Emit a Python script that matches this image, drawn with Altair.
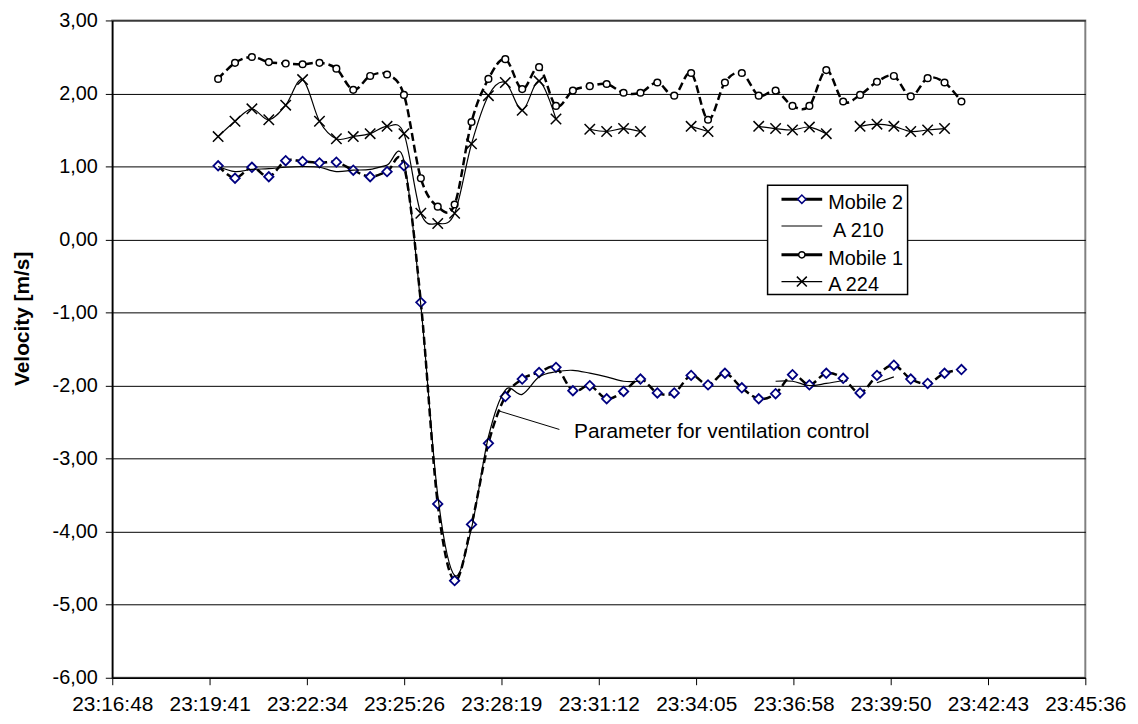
import altair as alt
import pandas as pd

# ---------------- data ----------------
times = [
    "23:19:56", "23:20:26", "23:20:56", "23:21:26", "23:21:56", "23:22:26", "23:22:56",
    "23:23:26", "23:23:56", "23:24:26", "23:24:56", "23:25:26", "23:25:56", "23:26:26",
    "23:26:56", "23:27:26", "23:27:56", "23:28:26", "23:28:56", "23:29:26", "23:29:56",
    "23:30:26", "23:30:56", "23:31:26", "23:31:56", "23:32:26", "23:32:56", "23:33:26",
    "23:33:56", "23:34:26", "23:34:56", "23:35:26", "23:35:56", "23:36:26", "23:36:56",
    "23:37:26", "23:37:56", "23:38:26", "23:38:56", "23:39:26", "23:39:56", "23:40:26",
    "23:40:56", "23:41:26", "23:41:56",
]

mobile2 = [1.01, 0.84, 0.99, 0.86, 1.08, 1.07, 1.05, 1.06, 0.95, 0.86, 0.93, 1.01,
           -0.86, -3.62, -4.67, -3.90, -2.79, -2.15, -1.91, -1.82, -1.75, -2.07, -2.00, -2.18,
           -2.08, -1.91, -2.10, -2.10, -1.86, -1.99, -1.83, -2.03, -2.18, -2.11, -1.85, -1.99,
           -1.83, -1.90, -2.10, -1.86, -1.72, -1.91, -1.97, -1.83, -1.78]

a210 = [1.00, 0.93, 0.96, 0.97, 0.99, 1.00, 0.99, 0.93, 0.95, 0.96, 1.02, 1.08,
        -0.90, -3.50, -4.60, -3.95, -2.70, -2.06, -2.12, -1.88, -1.81, -1.79, -1.83, -1.88,
        -1.94, -1.94, None, None, None, None, None, None, None, -1.94, -1.94, -2.00,
        -1.97, -1.93, None, -1.96, -1.88, None, None, None, None]

mobile1 = [2.20, 2.42, 2.50, 2.43, 2.41, 2.40, 2.42, 2.34, 2.05, 2.24, 2.26, 1.98,
           0.84, 0.45, 0.48, 1.61, 2.20, 2.47, 2.06, 2.36, 1.83, 2.04, 2.10, 2.13,
           2.01, 2.01, 2.15, 1.97, 2.28, 1.64, 2.15, 2.28, 1.97, 2.04, 1.83, 1.83,
           2.32, 1.89, 1.98, 2.16, 2.24, 1.96, 2.21, 2.15, 1.89]

a224 = [1.41, 1.62, 1.79, 1.64, 1.84, 2.19, 1.62, 1.38, 1.41, 1.45, 1.55, 1.45,
        0.36, 0.22, 0.36, 1.31, 1.97, 2.15, 1.77, 2.17, 1.65, None, 1.51, 1.48,
        1.52, 1.48, None, None, 1.55, 1.48, None, None, 1.55, 1.52, 1.50, 1.54,
        1.45, None, 1.55, 1.58, 1.55, 1.48, 1.50, 1.52, None]

series_names = ["Mobile 2", "A 210", "Mobile 1", "A 224"]
x_tick_labels = ["23:16:48", "23:19:41", "23:22:34", "23:25:26", "23:28:19", "23:31:12",
                 "23:34:05", "23:36:58", "23:39:50", "23:42:43", "23:45:36"]
y_ticks = [-6, -5, -4, -3, -2, -1, 0, 1, 2, 3]

ann_label = "Parameter for ventilation control"
ann_tip_time, ann_tip_value = "23:28:16", -2.35
ann_tail_time, ann_tail_value = "23:30:02", -2.60
ann_text_time, ann_text_value = "23:30:28", -2.72


def to_sec(s):
    h, m, sec = map(int, s.split(":"))
    return h * 3600 + m * 60 + sec


rows = []
for name, vals in zip(series_names, [mobile2, a210, mobile1, a224]):
    seg = 0
    prev = False
    for t, v in zip(times, vals):
        if v is None:
            if prev:
                seg += 1
            prev = False
            continue
        rows.append({"series": name, "t": to_sec(t), "v": v, "seg": seg})
        prev = True
df = pd.DataFrame(rows)

ann = pd.DataFrame([{
    "t1": to_sec(ann_tip_time), "v1": ann_tip_value,
    "t2": to_sec(ann_tail_time), "v2": ann_tail_value,
    "tt": to_sec(ann_text_time), "vt": ann_text_value, "label": ann_label,
}])

FONT = "Liberation Sans"
tick_vals = [to_sec(s) for s in x_tick_labels]

xscale = alt.Scale(domain=[tick_vals[0], tick_vals[-1]], nice=False, zero=False)
yscale = alt.Scale(domain=[y_ticks[0], y_ticks[-1]], nice=False, zero=False)

xaxis = alt.Axis(values=tick_vals, labelExpr="utcFormat(datum.value*1000, '%H:%M:%S')",
                 grid=False, title=None, tickSize=7, tickColor="black", domainColor="black",
                 domainWidth=1.5, labelFont=FONT, labelFontSize=21, labelColor="black",
                 labelPadding=9, labelFlush=False, labelOverlap=False, labelAngle=0)
yaxis = alt.Axis(values=y_ticks,
                 labelExpr="replace((datum.value < 0 ? '-' : '') + format(abs(datum.value), '.2f'), '.', ',')",
                 grid=True, gridColor="black", gridWidth=1, tickSize=7, tickColor="black",
                 domainColor="black", domainWidth=1.5, labelFont=FONT, labelFontSize=20,
                 labelColor="black", labelPadding=8, title="Velocity [m/s]", titleFont=FONT,
                 titleFontSize=21, titleFontWeight="bold", titleColor="black",
                 titleX=-90, titleY=300, titleAlign="center", titleBaseline="middle",
                 titleAngle=270)

X = alt.X("t:Q", scale=xscale, axis=xaxis)
Y = alt.Y("v:Q", scale=yscale, axis=yaxis)


def sel(name):
    return alt.Chart(df).transform_filter(alt.datum.series == name)


layers = []
# Mobile 2
layers.append(sel("Mobile 2").mark_line(interpolate="cardinal", color="black", strokeWidth=2.5,
                                          strokeDash=[8, 4]).encode(x=X, y=Y, detail="seg:N"))
layers.append(sel("Mobile 2").mark_point(shape="diamond", size=90, filled=True, fill="white",
                                           stroke="#000080", strokeWidth=1.8, opacity=1)
              .encode(x=X, y=Y))
# A 210
layers.append(sel("A 210").mark_line(interpolate="cardinal", color="black", strokeWidth=1.2)
              .encode(x=X, y=Y, detail="seg:N"))
# Mobile 1
layers.append(sel("Mobile 1").mark_line(interpolate="cardinal", color="black", strokeWidth=2.5,
                                          strokeDash=[8, 4]).encode(x=X, y=Y, detail="seg:N"))
layers.append(sel("Mobile 1").mark_point(shape="circle", size=45, filled=True, fill="white",
                                           stroke="black", strokeWidth=1.5, opacity=1)
              .encode(x=X, y=Y))
# A 224
layers.append(sel("A 224").mark_line(interpolate="cardinal", color="black", strokeWidth=1.2)
              .encode(x=X, y=Y, detail="seg:N"))
layers.append(sel("A 224").mark_point(shape="M-1,-1L1,1M1,-1L-1,1", size=110, filled=False,
                                        stroke="black", strokeWidth=1.5, opacity=1)
              .encode(x=X, y=Y))

# annotation
layers.append(alt.Chart(ann).mark_rule(color="black", strokeWidth=1).encode(
    x=alt.X("t1:Q", scale=xscale, axis=xaxis), x2="t2:Q",
    y=alt.Y("v1:Q", scale=yscale, axis=yaxis), y2="v2:Q"))
layers.append(alt.Chart(ann).mark_text(align="left", baseline="alphabetic", font=FONT,
                                       fontSize=21, color="black").encode(
    x=alt.X("tt:Q", scale=xscale, axis=xaxis), y=alt.Y("vt:Q", scale=yscale, axis=yaxis),
    text="label:N"))

# manual legend (pixel positions inside plot area)
one = alt.Data(values=[{}])
layers.append(alt.Chart(one).mark_rect(fill="white", stroke="black", strokeWidth=1.5).encode(
    x=alt.value(660), x2=alt.value(801), y=alt.value(166), y2=alt.value(276)))

leg_rows = [180, 207, 236, 263]
leg_text_y = [184, 212, 240, 266]
leg_text_x = [721, 726, 721, 721]
leg_styles = [
    dict(width=3, shape="diamond", size=70, stroke="#000080"),
    dict(width=1.2, shape=None),
    dict(width=3, shape="circle", size=40, stroke="black"),
    dict(width=1.2, shape="M-1,-1L1,1M1,-1L-1,1", size=100, stroke="black"),
]
for name, ly, ty, tx, st in zip(series_names, leg_rows, leg_text_y, leg_text_x, leg_styles):
    layers.append(alt.Chart(one).mark_rule(color="black", strokeWidth=st["width"]).encode(
        x=alt.value(674), x2=alt.value(715), y=alt.value(ly)))
    if st["shape"] is not None:
        if st["shape"].startswith("M"):
            mk = alt.Chart(one).mark_point(shape=st["shape"], size=st["size"], filled=False,
                                           stroke=st["stroke"], strokeWidth=1.5, opacity=1)
        else:
            mk = alt.Chart(one).mark_point(shape=st["shape"], size=st["size"], filled=True,
                                           fill="white", stroke=st["stroke"], strokeWidth=1.5,
                                           opacity=1)
        layers.append(mk.encode(x=alt.value(694.5), y=alt.value(ly)))
    layers.append(alt.Chart(one).mark_text(align="left", baseline="middle", font=FONT,
                                           fontSize=20, color="black").encode(
        x=alt.value(tx), y=alt.value(ty), text=alt.value(name)))

chart = alt.layer(*layers).properties(
    width=980, height=662,
    autosize=alt.AutoSizeParams(type="none"),
    padding={"left": 105, "top": 10, "right": 45, "bottom": 40},
    background="white",
).configure_view(stroke="#808080", strokeWidth=2)

chart.save("out.html", embed_options={"renderer": "svg", "actions": False})
